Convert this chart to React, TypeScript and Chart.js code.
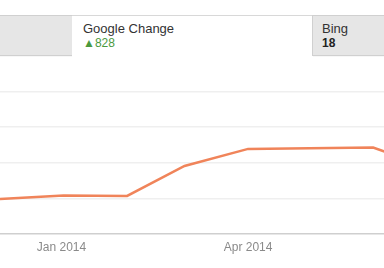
import React, { useEffect, useRef } from "react";
import { Chart, registerables } from "chart.js";

Chart.register(...registerables);

// Days since 1 Dec 2013 for each monthly point
const pointDays = [0, 31, 62, 90, 121, 151, 182, 212];
const googleValues = [0.98, 1.08, 1.07, 1.91, 2.39, 2.41, 2.43, 1.8];
const tickDays = [30, 121];
const tickLabels = ["Jan 2014", "Apr 2014"];
const tabTitles = ["", "Google Change", "Bing"];
const tabValues = ["", "▲828", "18"];

const FONT = "'Liberation Sans', Arial, Helvetica, sans-serif";

export default function App() {
  const canvasRef = useRef<HTMLCanvasElement | null>(null);

  useEffect(() => {
    const canvas = canvasRef.current;
    if (!canvas) return;
    const chart = new Chart(canvas, {
      type: "line",
      data: {
        datasets: [
          {
            data: pointDays.map((d, i) => ({ x: d, y: googleValues[i] })),
            borderColor: "#f0845a",
            borderWidth: 2.5,
            pointRadius: 0,
            tension: 0,
            fill: false,
          },
        ],
      },
      options: {
        animation: false,
        responsive: false,
        maintainAspectRatio: false,
        layout: { padding: { top: 56, left: 0, right: 0, bottom: 0 } },
        plugins: { legend: { display: false }, tooltip: { enabled: false } },
        scales: {
          x: {
            type: "linear",
            min: 0,
            max: 187.3,
            grid: { display: false, drawTicks: false },
            border: { display: true, color: "#cfcfcf", width: 1.5 },
            afterBuildTicks: (scale: any) => {
              scale.ticks = tickDays.map((v) => ({ value: v }));
            },
            afterFit: (scale: any) => {
              scale.height = 34;
            },
            ticks: {
              autoSkip: false,
              maxRotation: 0,
              padding: 6,
              color: "#8a8a8a",
              font: { family: FONT, size: 12 },
              callback: (v: any) => {
                const i = tickDays.indexOf(Number(v));
                return i >= 0 ? tickLabels[i] : "";
              },
            },
          },
          y: {
            min: 0,
            max: 5,
            ticks: { display: false, stepSize: 1 },
            border: { display: false },
            grid: {
              drawTicks: false,
              color: (ctx: any) => (ctx.tick && ctx.tick.value === 0 ? "rgba(0,0,0,0)" : "#efefef"),
              lineWidth: 1.5,
            },
            afterFit: (scale: any) => {
              scale.width = 0;
            },
          },
        },
      },
    });
    return () => chart.destroy();
  }, []);

  const tabBase: React.CSSProperties = {
    position: "absolute",
    top: 15,
    height: 41,
    boxSizing: "border-box",
    fontFamily: FONT,
  };

  return (
    <div
      style={{
        position: "fixed",
        left: 0,
        top: 0,
        width: 384,
        height: 268,
        background: "#ffffff",
        overflow: "hidden",
      }}
    >
      <canvas ref={canvasRef} width={384} height={268} style={{ position: "absolute", left: 0, top: 0 }} />
      <div
        style={{
          ...tabBase,
          left: -2,
          width: 75,
          background: "#e6e6e6",
          border: "1px solid #d0d0d0",
        }}
      >
        {tabTitles[0]}
      </div>
      <div
        style={{
          ...tabBase,
          left: 72,
          width: 241,
          height: 42,
          background: "#ffffff",
          borderTop: "1px solid #d8d8d8",
          paddingLeft: 11,
          paddingTop: 5,
        }}
      >
        <div style={{ fontSize: 13, color: "#333", lineHeight: "15px" }}>{tabTitles[1]}</div>
        <div style={{ fontSize: 12, color: "#4b9a3e", lineHeight: "15px" }}>{tabValues[1]}</div>
      </div>
      <div
        style={{
          ...tabBase,
          left: 312,
          width: 80,
          background: "#e6e6e6",
          border: "1px solid #d0d0d0",
          paddingLeft: 9,
          paddingTop: 5,
        }}
      >
        <div style={{ fontSize: 13, color: "#333", lineHeight: "15px" }}>{tabTitles[2]}</div>
        <div style={{ fontSize: 12, color: "#222", fontWeight: "bold", lineHeight: "15px" }}>{tabValues[2]}</div>
      </div>
    </div>
  );
}
